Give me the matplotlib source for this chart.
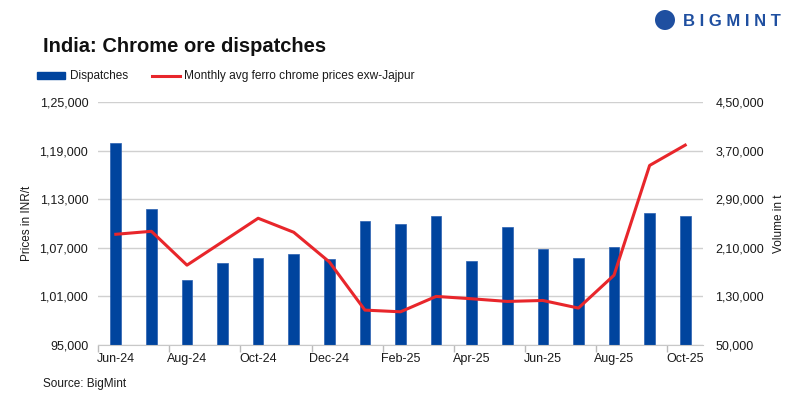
import numpy as np
import matplotlib
matplotlib.use("Agg")
import matplotlib.pyplot as plt
from matplotlib.ticker import FixedLocator, FuncFormatter
from matplotlib.patches import Ellipse

months = ["Jun-24", "Jul-24", "Aug-24", "Sep-24", "Oct-24", "Nov-24", "Dec-24",
          "Jan-25", "Feb-25", "Mar-25", "Apr-25", "May-25", "Jun-25", "Jul-25",
          "Aug-25", "Sep-25", "Oct-25"]
dispatches = [382000, 274500, 157000, 185000, 194000, 200000, 191000,
              254000, 250000, 262000, 188000, 245000, 208000, 193000,
              211000, 268000, 262000]
prices = [108670, 109040, 104860, 107750, 110650, 108920, 105260,
          99310, 99100, 101000, 100710, 100380, 100500, 99560,
          103620, 117170, 119680]

BLUE = "#00449e"
RED = "#e8262b"
GRID = "#d0d0d0"
TXT = "#1a1a1a"

plt.rcParams["font.family"] = ["Liberation Sans", "DejaVu Sans"]


def indian_fmt(v, pos=None):
    s = str(int(round(v)))
    if len(s) <= 3:
        return s
    head, tail = s[:-3], s[-3:]
    groups = []
    while len(head) > 2:
        groups.insert(0, head[-2:])
        head = head[:-2]
    if head:
        groups.insert(0, head)
    return ",".join(groups + [tail])


fig = plt.figure(figsize=(8, 3.99), dpi=100)
ax = fig.add_axes([0.1225, 0.1353, 0.75625, 0.609])
ax2 = ax.twinx()
x = np.arange(len(months))

# bars on the volume scale (right side)
ax.bar(x, dispatches, width=0.3, color=BLUE, edgecolor="#2a5fb0", linewidth=0.5, zorder=2)
ax.set_ylim(50000, 450000)
ax.yaxis.set_major_locator(FixedLocator(np.arange(50000, 450001, 80000)))
ax.yaxis.set_major_formatter(FuncFormatter(indian_fmt))
ax.grid(axis="y", color=GRID, linewidth=1)
ax.set_axisbelow(True)

ax.set_xlim(-0.5, len(months) - 0.5)
ax.set_xticks(x[::2])
ax.set_xticklabels(months[::2])
ax.set_xticks(np.arange(-0.5, len(months) - 1, 2), minor=True)
ax.tick_params(axis="x", which="major", length=0, pad=6, labelsize=9, labelcolor=TXT)
ax.tick_params(axis="x", which="minor", length=5, color="#bbbbbb", width=1)

for side in ["top", "left", "right"]:
    ax.spines[side].set_visible(False)
ax.spines["bottom"].set_color("#c8c8c8")

# price line on the left scale
ax2.plot(x, prices, color=RED, linewidth=2.2, zorder=3)
ax2.set_ylim(95000, 125000)
ax2.yaxis.set_major_locator(FixedLocator(np.arange(95000, 125001, 6000)))
ax2.yaxis.set_major_formatter(FuncFormatter(indian_fmt))
for side in ["top", "left", "right", "bottom"]:
    ax2.spines[side].set_visible(False)

# put volume ticks on the right, price ticks on the left
ax.yaxis.tick_right()
ax.yaxis.set_label_position("right")
ax2.yaxis.tick_left()
ax2.yaxis.set_label_position("left")
ax.set_ylabel("Volume in t", fontsize=8.5, color=TXT, labelpad=6)
ax2.set_ylabel("Prices in INR/t", fontsize=8.5, color=TXT, labelpad=5)
ax.tick_params(axis="y", length=0, pad=9, labelsize=9, labelcolor=TXT)
ax2.tick_params(axis="y", length=0, pad=7, labelsize=9, labelcolor=TXT)

# title, legend, source
fig.text(43 / 800, 1 - 47 / 399, "India: Chrome ore dispatches", fontsize=14.5,
         fontweight="bold", color="#111111", va="center")
fig.patches.append(plt.Rectangle((37 / 800, 1 - 79 / 399), 28 / 800, 7 / 399,
                                 transform=fig.transFigure, color=BLUE))
fig.text(70 / 800, 1 - 75.5 / 399, "Dispatches", fontsize=8.5, color=TXT, va="center")
fig.lines.append(plt.Line2D([152 / 800, 180 / 800], [1 - 75.5 / 399] * 2,
                            transform=fig.transFigure, color=RED, linewidth=2.2))
fig.text(184 / 800, 1 - 75.5 / 399, "Monthly avg ferro chrome prices exw-Jajpur",
         fontsize=8.6, color=TXT, va="center")
fig.text(43 / 800, 1 - 384 / 399, "Source: BigMint", fontsize=8.5, color=TXT, va="center")

# logo
fig.patches.append(Ellipse((665 / 800, 1 - 20 / 399), 20 / 800, 20 / 399,
                           transform=fig.transFigure, facecolor="#1f4fa0", edgecolor="none"))
fig.text(683 / 800, 1 - 21 / 399, "B I G M I N T", fontsize=12, fontweight="bold",
         color="#1f4fa0", va="center")

fig.savefig("out.png", dpi=100)
